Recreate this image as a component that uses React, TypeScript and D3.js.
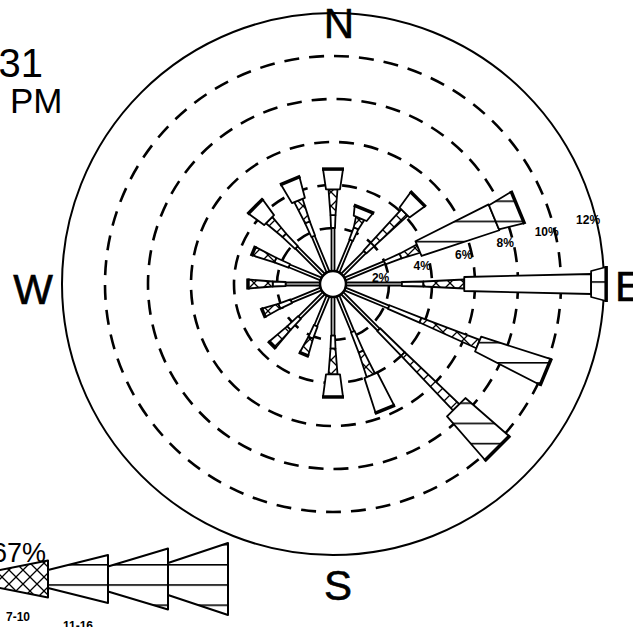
import { useEffect, useRef } from "react";
import * as d3 from "d3";

const directions = ["N", "NNE", "NE", "ENE", "E", "ESE", "SE", "SSE", "S", "SSW", "SW", "WSW", "W", "WNW", "NW", "NNW"];
const speedClasses = ["1-3", "4-6", "7-10", "11-16", "17-21", "22-27"];

// percent of observations per direction, one list per speed class (knots)
const pct1to3 = [2.0, 1.6, 1.5, 2.0, 2.6, 2.2, 2.4, 1.8, 1.8, 1.5, 1.6, 1.5, 1.6, 1.6, 1.8, 1.8];
const pct4to6 = [0.6, 0.6, 0.5, 0.8, 1.0, 1.6, 1.6, 1.0, 0.6, 0.6, 0.7, 0.6, 0.6, 0.7, 0.8, 0.7];
const pct7to10 = [1.2, 0.5, 2.1, 0.9, 1.9, 2.9, 3.5, 1.2, 1.2, 0.83, 1.1, 0.8, 1.15, 1.1, 1.0, 1.1];
const pct11to16 = [0.94, 0.46, 0.88, 0, 5.9, 0, 0, 1.7, 1.05, 0, 0, 0, 0, 0, 0.9, 1.0];
const pct17to21 = [0, 0, 0, 3.8, 0, 3.4, 0, 0, 0, 0, 0, 0, 0, 0, 0, 0];
const pct22to27 = [0, 0, 0, 1.2, 0.7, 0, 2.7, 0, 0, 0, 0, 0, 0, 0, 0, 0];
const calmPct = 10.67;

const ringValues = [2, 4, 6, 8, 10, 12];

export default function App() {
  const ref = useRef<SVGSVGElement>(null);

  useEffect(() => {
    document.body.style.margin = "0";
    if (!ref.current) return;
    const svg = d3.select(ref.current);
    svg.selectAll("*").remove();

    const width = 633;
    const height = 627;
    const cx = 333;
    const cy = 284;
    const calmR = 13;
    const font = "'Liberation Sans', Arial, sans-serif";

    const r = d3.scaleLinear().domain([0, 12]).range([calmR, 271]);
    const angle = d3.scaleLinear().domain([0, directions.length]).range([0, 2 * Math.PI]);

    const series = [pct1to3, pct4to6, pct7to10, pct11to16, pct17to21, pct22to27];
    // petal widths (inner, outer) for each speed class
    const petalW = [[3, 3], [4, 5], [5, 9], [14, 20], [16, 28], [26, 34]];
    const fills = ["#fff", "#fff", "url(#cross)", "#fff", "url(#hlines)", "url(#hlines)"];

    svg.append("rect").attr("width", width).attr("height", height).attr("fill", "#fff");

    // hatch patterns
    const defs = svg.append("defs");
    const cross = defs.append("pattern")
      .attr("id", "cross").attr("patternUnits", "userSpaceOnUse")
      .attr("width", 14).attr("height", 14).attr("x", 2).attr("y", 3);
    cross.append("rect").attr("width", 14).attr("height", 14).attr("fill", "#fff");
    cross.append("path").attr("d", "M0,0L14,14M14,0L0,14")
      .attr("stroke", "#000").attr("stroke-width", 1.3);

    const hl = defs.append("pattern")
      .attr("id", "hlines").attr("patternUnits", "userSpaceOnUse")
      .attr("width", 10).attr("height", 20.2).attr("y", 18.6);
    hl.append("rect").attr("width", 10).attr("height", 20.2).attr("fill", "#fff");
    hl.append("line").attr("x1", 0).attr("x2", 10).attr("y1", 0.8).attr("y2", 0.8)
      .attr("stroke", "#000").attr("stroke-width", 1.6);

    // outer circle and dashed percent rings
    svg.append("circle").attr("cx", cx).attr("cy", cy).attr("r", r(12))
      .attr("fill", "none").attr("stroke", "#000").attr("stroke-width", 2);

    svg.append("g").selectAll("circle")
      .data(ringValues.filter(v => v < 12))
      .join("circle")
      .attr("cx", cx).attr("cy", cy).attr("r", d => r(d))
      .attr("fill", "none").attr("stroke", "#000").attr("stroke-width", 2.6)
      .attr("stroke-dasharray", "15 10");

    const pt = (a: number, rad: number, off: number) =>
      [cx + Math.sin(a) * rad + Math.cos(a) * off, cy - Math.cos(a) * rad + Math.sin(a) * off];

    // petals
    const petals = svg.append("g");
    directions.forEach((dir, i) => {
      const a = angle(i);
      let cum = 0;
      const vals = series.map(s => s[i]);
      const last = vals.reduce((m, v, k) => (v > 0 ? k : m), 0);
      vals.forEach((v, k) => {
        if (v <= 0) return;
        const r0 = r(cum);
        cum += v;
        const r1 = r(cum);
        const [wi, wo] = petalW[k];
        const pts = [pt(a, r0, -wi / 2), pt(a, r1, -wo / 2), pt(a, r1, wo / 2), pt(a, r0, wi / 2)];
        petals.append("polygon")
          .attr("class", dir)
          .attr("points", pts.map(p => p.join(",")).join(" "))
          .attr("fill", fills[k])
          .attr("stroke", "#000").attr("stroke-width", 1.8)
          .attr("stroke-linejoin", "round");
        if (k === last) {
          const e0 = pt(a, r1, -wo / 2 - 1);
          const e1 = pt(a, r1, wo / 2 + 1);
          petals.append("line")
            .attr("x1", e0[0]).attr("y1", e0[1]).attr("x2", e1[0]).attr("y2", e1[1])
            .attr("stroke", "#000").attr("stroke-width", 3.5);
        }
      });
    });

    // calm circle
    svg.append("circle").attr("cx", cx).attr("cy", cy).attr("r", calmR)
      .attr("fill", "#fff").attr("stroke", "#000").attr("stroke-width", 2.5);

    // ring labels along a slanted guide line
    const guide = (rad: number) => {
      const p0 = [47, -6];
      const len = Math.hypot(1, -0.278);
      const d = [1 / len, -0.278 / len];
      const b = p0[0] * d[0] + p0[1] * d[1];
      const c = p0[0] * p0[0] + p0[1] * p0[1] - rad * rad;
      const t = -b + Math.sqrt(b * b - c);
      return [cx + p0[0] + t * d[0], cy + p0[1] + t * d[1]];
    };
    svg.append("g").selectAll("text")
      .data(ringValues)
      .join("text")
      .attr("x", d => guide(r(d) - 8)[0])
      .attr("y", d => guide(r(d) - 8)[1])
      .attr("text-anchor", "middle")
      .attr("dominant-baseline", "central")
      .attr("font-family", font).attr("font-weight", "bold").attr("font-size", 12)
      .text(d => `${d}%`);

    // compass letters
    const compass = [
      { t: "N", x: 339, y: 38, anchor: "middle" },
      { t: "S", x: 338, y: 600, anchor: "middle" },
      { t: "W", x: 33, y: 304, anchor: "middle" },
      { t: "E", x: 615, y: 301, anchor: "start" },
    ];
    svg.append("g").selectAll("text")
      .data(compass)
      .join("text")
      .attr("x", d => d.x).attr("y", d => d.y)
      .attr("text-anchor", d => d.anchor)
      .attr("font-family", font).attr("font-size", 42)
      .attr("stroke", "#000").attr("stroke-width", 0.6)
      .text(d => d.t);

    // title fragments
    svg.append("text").attr("x", 43).attr("y", 77).attr("text-anchor", "end")
      .attr("font-family", font).attr("font-size", 40).text("31");
    svg.append("text").attr("x", 10).attr("y", 113)
      .attr("font-family", font).attr("font-size", 35).text("PM");

    // legend
    const legendY = 579;
    const legendH = [[4, 6], [7, 12], [13, 37], [18, 48], [25, 61], [32, 72]];
    const legendFills = ["#fff", "#fff", "url(#cross)", "url(#hlines)", "url(#hlines)", "url(#hlines)"];
    const lx = d3.scaleLinear().domain([0, speedClasses.length]).range([-132, 228]);
    const legend = svg.append("g");
    speedClasses.forEach((name, k) => {
      const x0 = lx(k);
      const x1 = lx(k + 1);
      const [hi, ho] = legendH[k];
      legend.append("polygon")
        .attr("points", [[x0, legendY - hi / 2], [x1, legendY - ho / 2], [x1, legendY + ho / 2], [x0, legendY + hi / 2]]
          .map(p => p.join(",")).join(" "))
        .attr("fill", legendFills[k])
        .attr("stroke", "#000").attr("stroke-width", 2)
        .attr("stroke-linejoin", "round");
      legend.append("text")
        .attr("x", (x0 + x1) / 2)
        .attr("y", 621 + 8.5 * (k - 2))
        .attr("text-anchor", "middle")
        .attr("font-family", font).attr("font-weight", "bold").attr("font-size", 12)
        .text(name);
    });
    legend.append("text").attr("x", 46).attr("y", 562).attr("text-anchor", "end")
      .attr("font-family", font).attr("font-size", 27)
      .text(`${calmPct}%`);
  }, []);

  return <svg ref={ref} width={633} height={627} style={{ display: "block" }} />;
}
